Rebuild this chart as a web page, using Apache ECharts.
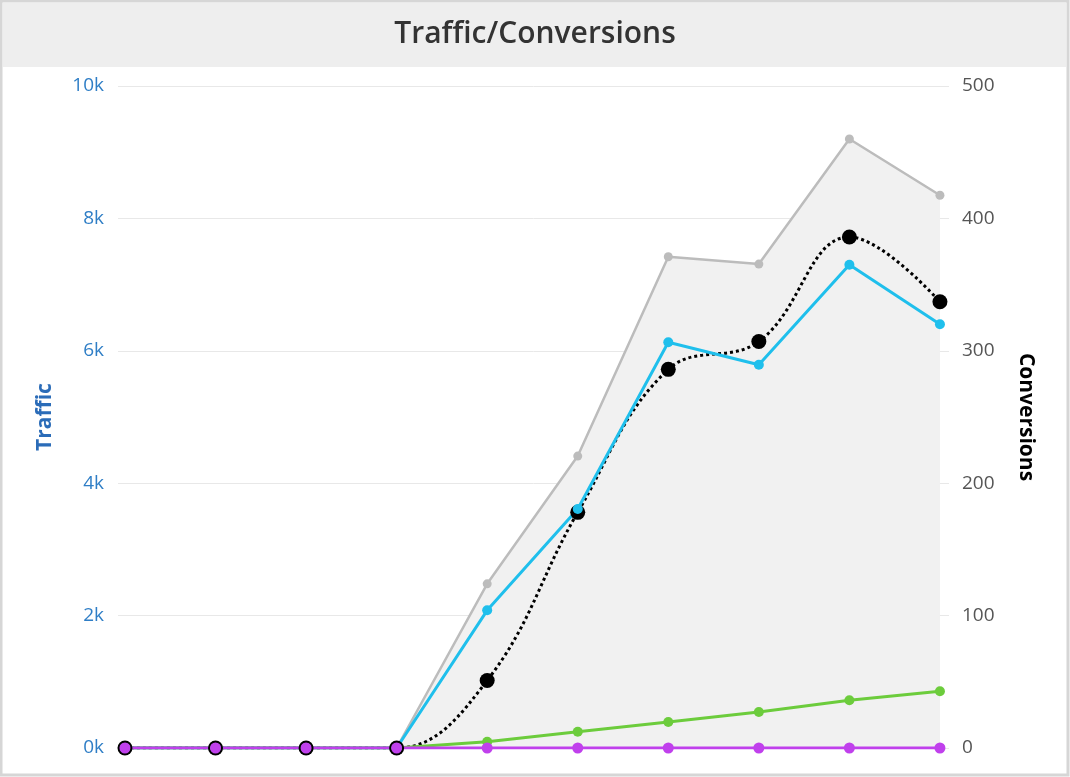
<!DOCTYPE html>
<html>
<head>
<meta charset="utf-8">
<script src="https://cdn.jsdelivr.net/npm/echarts@6/dist/echarts.min.js"></script>
<style>
  html, body { margin: 0; padding: 0; background: #fff; }
  #chart_view { width: 1070px; height: 777px; }
</style>
</head>
<body>
<div id="chart_view"></div>
<script>
// data (point index 0..9)
var points = [0, 1, 2, 3, 4, 5, 6, 7, 8, 9];
var totalTraffic = [0, 0, 0, 0, 2480, 4410, 7420, 7310, 9200, 8350];
var traffic = [0, 0, 0, 0, 2080, 3610, 6130, 5790, 7300, 6400];
var conversions = [0, 0, 0, 0, 51, 178, 286, 307, 386, 337];
var greenSeries = [0, 0, 0, 0, 95, 246, 393, 544, 720, 857];
var purpleSeries = [0, 0, 0, 0, 0, 0, 0, 0, 0, 0];
var leftTicks = [0, 2000, 4000, 6000, 8000, 10000];
var rightTicks = [0, 100, 200, 300, 400, 500];

function pairs(vals) {
    return points.map(function (p, i) { return [p, vals[i]]; });
}

var myChart = echarts.init(document.getElementById('chart_view'));

var option = {
    animation: false,
    textStyle: { fontFamily: 'Open Sans' },
    graphic: [
        {
            type: 'rect', z: -10,
            shape: { x: 1, y: 1, width: 1067, height: 774 },
            style: { fill: '#fff', stroke: '#d6d6d6', lineWidth: 3 }
        },
        {
            type: 'rect', z: -9,
            shape: { x: 3, y: 3, width: 1063, height: 64 },
            style: { fill: '#eeeeee' }
        },
        {
            type: 'text', x: 535, y: 34,
            style: {
                text: 'Traffic/Conversions', fill: '#333',
                font: '600 30px "Open Sans"',
                textAlign: 'center', textVerticalAlign: 'middle'
            }
        }
    ],
    grid: { left: 118, right: 121, top: 86, bottom: 29 },
    xAxis: {
        type: 'value',
        min: -0.077,
        max: 9.1,
        axisLine: { show: false },
        axisTick: { show: false },
        axisLabel: { show: false },
        splitLine: { show: false }
    },
    yAxis: [
        {
            type: 'value',
            min: leftTicks[0],
            max: leftTicks[leftTicks.length - 1],
            interval: 2000,
            name: 'Traffic',
            nameLocation: 'middle',
            nameGap: 62,
            nameRotate: 90,
            nameTextStyle: { color: '#2b6cb8', fontWeight: 'bold', fontSize: 21 },
            axisLine: { show: false },
            axisTick: { show: false },
            axisLabel: {
                color: '#2f7ec6', fontSize: 19, margin: 14,
                formatter: function (v) { return (v / 1000) + 'k'; }
            },
            splitLine: { lineStyle: { color: '#e8e8e8', width: 1 } }
        },
        {
            type: 'value',
            position: 'right',
            min: rightTicks[0],
            max: rightTicks[rightTicks.length - 1],
            interval: 100,
            name: 'Conversions',
            nameLocation: 'middle',
            nameGap: 66,
            nameRotate: -90,
            nameTextStyle: { color: '#000', fontWeight: 'bold', fontSize: 21 },
            axisLine: { show: false },
            axisTick: { show: false },
            axisLabel: { color: '#555', fontSize: 19, margin: 13 },
            splitLine: { show: false }
        }
    ],
    series: [
        {
            name: 'Total traffic',
            type: 'line',
            yAxisIndex: 0,
            data: pairs(totalTraffic),
            symbol: 'circle',
            symbolSize: 9,
            lineStyle: { color: '#bcbcbc', width: 2.5 },
            itemStyle: { color: '#bcbcbc' },
            areaStyle: { color: '#f1f1f1', opacity: 1 }
        },
        {
            name: 'Conversions',
            type: 'line',
            yAxisIndex: 1,
            data: pairs(conversions),
            smooth: 0.4,
            symbol: 'circle',
            symbolSize: 15,
            lineStyle: { color: '#000', width: 3, type: [3, 3] },
            itemStyle: { color: '#000' }
        },
        {
            name: 'Traffic',
            type: 'line',
            yAxisIndex: 0,
            data: pairs(traffic),
            symbol: 'circle',
            symbolSize: 10,
            lineStyle: { color: '#1fbfec', width: 3 },
            itemStyle: { color: '#1fbfec' }
        },
        {
            name: 'Green',
            type: 'line',
            yAxisIndex: 0,
            data: pairs(greenSeries),
            symbol: 'circle',
            symbolSize: 10,
            lineStyle: { color: '#6ccc3c', width: 3 },
            itemStyle: { color: '#6ccc3c' }
        },
        {
            name: 'Purple',
            type: 'line',
            yAxisIndex: 0,
            data: pairs(purpleSeries),
            symbol: 'circle',
            symbolSize: 11,
            lineStyle: { color: '#c040ec', width: 3 },
            itemStyle: { color: '#c040ec' }
        }
    ]
};

myChart.setOption(option);
</script>
</body>
</html>
